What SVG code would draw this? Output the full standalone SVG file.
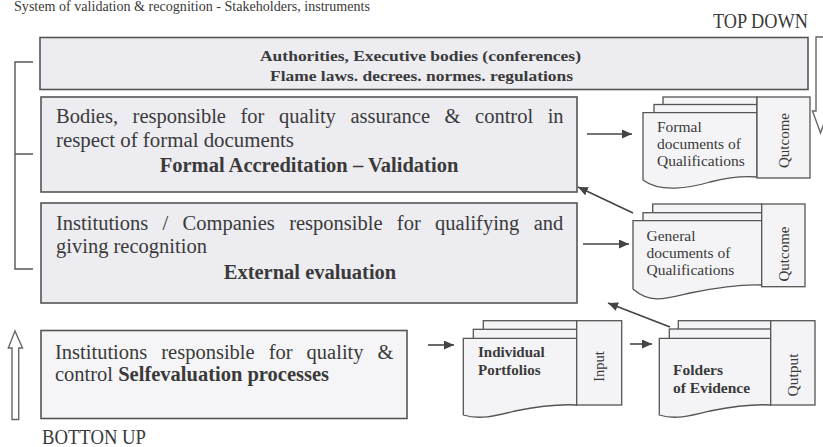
<svg xmlns="http://www.w3.org/2000/svg" width="823" height="447" viewBox="0 0 823 447">
<defs>
<style>
.t{font-family:"Liberation Serif","Times New Roman",serif;fill:#3a3a3a}
.b{font-weight:bold}
.box{fill:#ececf1;stroke:#555;stroke-width:1.6}
.box4{fill:#f5f5f7;stroke:#555;stroke-width:1.6}
.pg{fill:#f4f4f6;stroke:#555;stroke-width:1.3}
.conn{stroke:#444;stroke-width:1.6;fill:none;marker-end:url(#ah)}
.hollow{fill:#fff;stroke:#666;stroke-width:1.4}
.brk{stroke:#555;stroke-width:1.4;fill:none}
</style>
<marker id="ah" markerUnits="userSpaceOnUse" markerWidth="11" markerHeight="9" refX="10" refY="4.5" orient="auto">
<path d="M0,0 L10,4.5 L0,9 z" fill="#444"/>
</marker>
</defs>
<rect width="823" height="447" fill="#fff"/>

<text class="t" x="14" y="11" font-size="14" fill="#888" textLength="356" lengthAdjust="spacingAndGlyphs">System of validation &amp; recognition - Stakeholders, instruments</text>
<text class="t" x="713" y="28" font-size="20" textLength="95" lengthAdjust="spacingAndGlyphs">TOP DOWN</text>
<text class="t" x="42" y="444" font-size="20" textLength="104" lengthAdjust="spacingAndGlyphs">BOTTON UP</text>

<g id="bracket">
<path class="brk" d="M33,62 H15 V269 H33 M15,154 H33"/>
</g>
<g id="arrow-up">
<path class="hollow" d="M15,331 L22.5,348 H18.7 V419.5 H12 V348 H8.3 Z"/>
</g>
<g id="arrow-down">
<path class="hollow" d="M816,37 H825 V111 H828.5 L820.5,133 L812.5,111 H816 Z"/>
</g>

<g id="authorities">
<rect class="box" x="40" y="37.5" width="768" height="52"/>
<text class="t b" x="260" y="61" font-size="15" textLength="321" lengthAdjust="spacingAndGlyphs">Authorities, Executive bodies (conferences)</text>
<text class="t b" x="270" y="81" font-size="15" textLength="303" lengthAdjust="spacingAndGlyphs">Flame laws. decrees. normes. regulations</text>
</g>

<g id="bodies">
<rect class="box" x="41" y="97" width="536" height="95"/>
<text class="t" x="56" y="123" font-size="20.5" style="word-spacing:9.4px">Bodies, responsible for quality assurance &amp; control in</text>
<text class="t" x="56" y="147" font-size="20.5" textLength="238" lengthAdjust="spacingAndGlyphs">respect of formal documents</text>
<text class="t b" x="309" y="172" font-size="20.5" text-anchor="middle">Formal Accreditation – Validation</text>
</g>

<g id="institutions">
<rect class="box" x="41" y="203" width="536" height="100"/>
<text class="t" x="56" y="230" font-size="20.5" style="word-spacing:9.2px">Institutions / Companies responsible for qualifying and</text>
<text class="t" x="56" y="253" font-size="20.5">giving recognition</text>
<text class="t b" x="310" y="279" font-size="20.5" text-anchor="middle">External evaluation</text>
</g>

<g id="selfevaluation">
<rect class="box4" x="41" y="330.5" width="366" height="88"/>
<text class="t" x="55" y="359" font-size="20.5" style="word-spacing:8.9px">Institutions responsible for quality &amp;</text>
<text class="t" x="55" y="381" font-size="20.5">control <tspan class="b">Selfevaluation processes</tspan></text>
</g>

<g id="doc-formal">
<rect class="pg" x="663" y="97" width="94" height="30"/>
<rect class="pg" x="654" y="104.5" width="103" height="30"/>
<path class="pg" d="M643,112.7 H757 V177 C745,176 730,177 710,182 C690,188 660,193 643,180 Z"/>
<rect class="pg" x="757" y="97" width="53" height="81"/>
<text class="t" x="657" y="132" font-size="15.5">Formal</text>
<text class="t" x="657" y="149" font-size="15.5">documents of</text>
<text class="t" x="657" y="166" font-size="15.5">Qualifications</text>
<text class="t" font-size="15" text-anchor="middle" transform="translate(788.5,140.5) rotate(-90)">Qutcome</text>
</g>

<g id="doc-general">
<rect class="pg" x="652.7" y="204" width="109" height="30"/>
<rect class="pg" x="643" y="212.7" width="118.7" height="30"/>
<path class="pg" d="M633,220.7 H761.7 V285 C745,284 720,287 690,293 C665,299 650,304 633,289 Z"/>
<rect class="pg" x="761.7" y="204" width="43.3" height="82.7"/>
<text class="t" x="646.5" y="241" font-size="15.5">General</text>
<text class="t" x="646.5" y="258" font-size="15.5">documents of</text>
<text class="t" x="646.5" y="275" font-size="15.5">Qualifications</text>
<text class="t" font-size="15" text-anchor="middle" transform="translate(788.5,254) rotate(-90)">Qutcome</text>
</g>

<g id="doc-portfolios">
<rect class="pg" x="483.3" y="320.7" width="93.4" height="30"/>
<rect class="pg" x="473.3" y="329.3" width="103.4" height="30"/>
<path class="pg" d="M463.3,338.3 H576.7 V405 C560,404 540,406 515,411 C495,416 480,420 463.3,415 Z"/>
<rect class="pg" x="576.7" y="320.7" width="45" height="84.3"/>
<text class="t b" x="478" y="357" font-size="15">Individual</text>
<text class="t b" x="478" y="375" font-size="15">Portfolios</text>
<text class="t" font-size="14.5" text-anchor="middle" transform="translate(604,366.5) rotate(-90)">Input</text>
</g>

<g id="doc-evidence">
<rect class="pg" x="678.3" y="320.7" width="92.4" height="30"/>
<rect class="pg" x="669.3" y="329" width="101.4" height="30"/>
<path class="pg" d="M659.3,338.3 H770.7 V405 C755,404 735,406 710,411 C690,416 675,420 659.3,415 Z"/>
<rect class="pg" x="770.7" y="320.7" width="44.3" height="84.3"/>
<text class="t b" x="673" y="375" font-size="15.5">Folders</text>
<text class="t b" x="673" y="393" font-size="15.5">of Evidence</text>
<text class="t" font-size="15.5" text-anchor="middle" transform="translate(798,375) rotate(-90)">Qutput</text>
</g>

<g id="connectors">
<line class="conn" x1="587" y1="134" x2="632" y2="134"/>
<line class="conn" x1="633" y1="213" x2="578" y2="187"/>
<line class="conn" x1="583" y1="244" x2="629" y2="244"/>
<line class="conn" x1="670" y1="327" x2="608" y2="303"/>
<line class="conn" x1="428" y1="345" x2="454" y2="345"/>
<line class="conn" x1="630" y1="344" x2="652" y2="344"/>
</g>
</svg>
